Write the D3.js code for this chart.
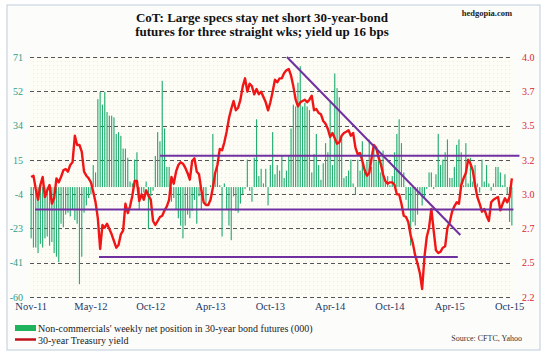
<!DOCTYPE html>
<html>
<head>
<meta charset="utf-8">
<script src="https://cdn.jsdelivr.net/npm/d3@7"></script>
<style>
  html, body { margin: 0; padding: 0; background: #fff; }
  svg { display: block; font-family: "Liberation Serif", "Times New Roman", serif; }
</style>
</head>
<body>
<svg id="chart" width="548" height="353"></svg>
<script>
// weekly net position of non-commercials, 30-yr bond futures (000), Nov-11 .. Oct-15
const netPosition = [
  -28, -33, -33, -36, -31, -33, -28, -27, -32, -30,
  -36, -38, -41, -20, -22, -15, -14, -16, -12, -18,
  -20, -53, -38, -14, -10, -6, -4, 12, 8, 48,
  52, 45, 52, 41, 39, 39, 38, 29, 30, 28,
  21, 21, 16, 3, 2, 15, 19, -12, -6, -3,
  3, -23, -5, -2, 17, 30, 25, 58, 32, 11,
  11, -8, -6, -12, -17, -21, -28, -21, -15, -17,
  -13, -7, -20, -5, -12, -7, -9, 0, 1, 29,
  6, 15, 1, -27, 2, -12, -21, -29, -5, -13,
  -14, -9, -4, -1, 15, -2, -8, 16, 37, 6,
  10, 2, 10, -10, 12, 30, 7, 12, 9, 17,
  5, 9, 17, 32, 45, 44, 57, 66, 44, 46,
  44, 42, 8, 18, 29, 12, 4, 13, 24, 19,
  47, 12, 62, 54, 49, 28, 5, 6, 9, 15,
  2, -4, 15, 9, 25, 10, 14, 26, 11, 23,
  14, 19, 8, 20, 3, 6, 1, 6, 19, 29,
  37, 24, 8, -7, -12, -32, -19, -21, -15, -4,
  -10, -6, -1, 8, 8, -1, 7, 29, 12, 15,
  19, 26, 5, 5, 11, 23, 26, 19, 1, 24,
  2, 16, 3, 12, 2, -3, 15, 3, 12, 2,
  -2, 2, 11, 11, 8, 1, 7, -4, -19, -21
];

// 30-year treasury yield, same weeks
const yield30 = [
  3.10, 3.11, 3.01, 2.93, 3.04, 3.10, 2.95, 3.00, 3.04, 2.90,
  2.94, 3.09, 3.06, 3.10, 3.15, 3.16, 3.14, 3.19, 3.21, 3.41,
  3.34, 3.34, 3.29, 3.14, 3.11, 3.09, 3.06, 2.99, 2.91, 2.79,
  2.56, 2.74, 2.72, 2.75, 2.71, 2.67, 2.62, 2.57, 2.59, 2.67,
  2.70, 2.90, 2.83, 2.88, 2.96, 3.07, 3.07, 2.92, 2.97, 2.93,
  3.00, 2.96, 2.93, 2.77, 2.74, 2.77, 2.80, 2.81, 2.85, 2.88,
  2.93, 3.10, 3.05, 3.14, 3.19, 3.21, 3.20, 3.17, 3.13, 3.08,
  3.22, 3.24, 3.14, 3.12, 3.00, 2.91, 2.89, 2.89, 2.93, 3.02,
  3.13, 3.19, 3.31, 3.30, 3.36, 3.44, 3.54, 3.61, 3.67, 3.60,
  3.62, 3.68, 3.78, 3.84, 3.74, 3.80, 3.78, 3.72, 3.76, 3.72,
  3.74, 3.70, 3.66, 3.60, 3.66, 3.74, 3.83, 3.81, 3.84, 3.84,
  3.88, 3.90, 3.91, 3.86, 3.78, 3.68, 3.63, 3.66, 3.67, 3.68,
  3.66, 3.68, 3.71, 3.60, 3.61, 3.58, 3.57, 3.52, 3.50, 3.46,
  3.40, 3.43, 3.39, 3.35, 3.36, 3.41, 3.43, 3.44, 3.45, 3.41,
  3.43, 3.32, 3.27, 3.28, 3.22, 3.15, 3.11, 3.13, 3.24, 3.34,
  3.32, 3.25, 3.20, 3.12, 3.07, 3.05, 3.06, 3.06, 3.04, 2.97,
  2.97, 2.90, 2.81, 2.80, 2.76, 2.66, 2.60, 2.51, 2.45, 2.38,
  2.26, 2.50, 2.65, 2.72, 2.86, 2.70, 2.55, 2.53, 2.54, 2.57,
  2.58, 2.72, 2.76, 2.84, 2.88, 2.91, 2.90, 3.04, 3.09, 3.13,
  3.23, 3.20, 3.15, 3.04, 2.95, 2.90, 2.84, 2.86, 2.81, 2.77,
  2.91, 2.93, 2.94, 2.95, 2.85, 2.90, 2.94, 2.91, 2.95, 3.09
];

// x-axis labels sit every 26 weeks
const xTickWeeks = [0, 26, 52, 78, 104, 130, 156, 182, 208];
const xTickLabels = ["Nov-11", "May-12", "Oct-12", "Apr-13", "Oct-13", "Apr-14", "Oct-14", "Apr-15", "Oct-15"];
const leftTickLabels = ["-60", "-41", "-23", "-4", "15", "34", "52", "71"];
const rightTickLabels = ["2.2", "2.5", "2.7", "3.0", "3.2", "3.5", "3.7", "4.0"];

// purple support / resistance lines drawn by the author, in (week, yield) terms
const trendLines = [
  { from: [56, 3.26], to: [212.3, 3.26] },
  { from: [1.7, 2.857], to: [209.7, 2.857] },
  { from: [29.5, 2.50], to: [185.5, 2.50] },
  { from: [111.2, 4.0], to: [186.6, 2.665] }
];

const legendItems = [
  "Non-commercials' weekly net position in 30-year bond futures (000)",
  "30-year Treasury yield"
];

const COLORS = {
  bar: "#25ad72",
  line: "#f01616",
  trend: "#7030a0",
  grid: "#555",
  left: "#2b9e86",
  right: "#e0242c",
  xlab: "#1f3864"
};

const svg = d3.select("#chart");
const plot = { left: 30, right: 513, top: 57, bottom: 297 };

// frame
svg.append("rect")
  .attr("x", 7).attr("y", 5).attr("width", 533).attr("height", 345)
  .attr("fill", "#fcfcfb").attr("stroke", "#c9d5e2").attr("stroke-width", 1.2);

// faint dotted plot background
const defs = svg.append("defs");
const pat = defs.append("pattern").attr("id", "dots")
  .attr("width", 4).attr("height", 4).attr("patternUnits", "userSpaceOnUse");
pat.append("rect").attr("width", 4).attr("height", 4).attr("fill", "#fdfdf6");
pat.append("rect").attr("x", 1).attr("y", 1).attr("width", 1).attr("height", 1).attr("fill", "#eeeacc");
svg.append("rect")
  .attr("x", plot.left).attr("y", plot.top)
  .attr("width", plot.right - plot.left).attr("height", plot.bottom - plot.top)
  .attr("fill", "url(#dots)");

const N = netPosition.length;
const x = d3.scaleBand()
  .domain(d3.range(N))
  .range([plot.left, plot.right])
  .paddingInner(0.5)
  .paddingOuter(0.25);
// fractional week -> pixel (for the hand-drawn trend lines)
const xWeek = d3.scaleLinear()
  .domain([0, N - 1])
  .range([x(0) + x.bandwidth() / 2, x(N - 1) + x.bandwidth() / 2]);

const yLeft = d3.scaleLinear().domain([-60, 71]).range([plot.bottom, plot.top]);
const yRight = d3.scaleLinear().domain([2.2, 4.0]).range([plot.bottom, plot.top]);

const leftTicks = d3.range(8).map(k => -60 + k * 131 / 7);
const rightTicks = d3.range(8).map(k => 2.2 + k * 1.8 / 7);

// gridlines
svg.append("g")
  .selectAll("line")
  .data(leftTicks)
  .join("line")
  .attr("x1", plot.left).attr("x2", plot.right)
  .attr("y1", d => Math.round(yLeft(d)) + 0.5)
  .attr("y2", d => Math.round(yLeft(d)) + 0.5)
  .attr("stroke", COLORS.grid)
  .attr("stroke-width", 1)
  .attr("stroke-dasharray", "4,3");

// bars
svg.append("g")
  .selectAll("rect")
  .data(netPosition)
  .join("rect")
  .attr("x", (d, i) => x(i))
  .attr("width", x.bandwidth())
  .attr("y", d => yLeft(Math.max(0, d)))
  .attr("height", d => Math.abs(yLeft(d) - yLeft(0)))
  .attr("fill", COLORS.bar);

// yield line
svg.append("path")
  .datum(yield30)
  .attr("fill", "none")
  .attr("stroke", COLORS.line)
  .attr("stroke-width", 2.4)
  .attr("stroke-linejoin", "round")
  .attr("d", d3.line()
    .x((d, i) => xWeek(i))
    .y(d => yRight(d)));

// trend lines
svg.append("g")
  .selectAll("line")
  .data(trendLines)
  .join("line")
  .attr("x1", d => xWeek(d.from[0])).attr("y1", d => yRight(d.from[1]))
  .attr("x2", d => xWeek(d.to[0])).attr("y2", d => yRight(d.to[1]))
  .attr("stroke", COLORS.trend)
  .attr("stroke-width", 2);

// axes
const axisLeft = d3.axisLeft(yLeft)
  .tickValues(leftTicks)
  .tickFormat((d, k) => leftTickLabels[k])
  .tickSize(0).tickPadding(7);
const gl = svg.append("g").attr("transform", `translate(${plot.left},0)`).call(axisLeft);
gl.select(".domain").remove();
gl.selectAll("text").attr("fill", COLORS.left).attr("font-size", 10)
  .attr("font-family", "Liberation Serif, Times New Roman, serif");

const axisRight = d3.axisRight(yRight)
  .tickValues(rightTicks)
  .tickFormat((d, k) => rightTickLabels[k])
  .tickSize(0).tickPadding(9);
const gr = svg.append("g").attr("transform", `translate(${plot.right},0)`).call(axisRight);
gr.select(".domain").remove();
gr.selectAll("text").attr("fill", COLORS.right).attr("font-size", 10)
  .attr("font-family", "Liberation Serif, Times New Roman, serif");

const axisBottom = d3.axisBottom(x)
  .tickValues(xTickWeeks)
  .tickFormat((d, k) => xTickLabels[k])
  .tickSize(0).tickPadding(6);
const gb = svg.append("g").attr("transform", `translate(0,${plot.bottom})`).call(axisBottom);
gb.select(".domain").remove();
gb.selectAll("text").attr("fill", COLORS.xlab).attr("font-size", 10.5)
  .attr("font-family", "Liberation Serif, Times New Roman, serif");

// title
const title = svg.append("g")
  .attr("font-weight", "bold")
  .attr("font-size", 13)
  .attr("text-anchor", "middle")
  .attr("fill", "#111");
title.append("text").attr("x", 262).attr("y", 22)
  .text("CoT: Large specs stay net short 30-year-bond");
title.append("text").attr("x", 262).attr("y", 35.5)
  .text("futures for three straight wks; yield up 16 bps");

svg.append("text")
  .attr("x", 512).attr("y", 16)
  .attr("text-anchor", "end")
  .attr("font-size", 8.5).attr("font-weight", "bold")
  .attr("fill", "#222")
  .text("hedgopia.com");

// legend
const lg = svg.append("g").attr("font-size", 10).attr("fill", "#222");
lg.append("rect").attr("x", 15).attr("y", 325).attr("width", 21).attr("height", 6)
  .attr("fill", "#1fb35e");
lg.append("text").attr("x", 38).attr("y", 331.5).text(legendItems[0]);
lg.append("line").attr("x1", 15).attr("x2", 36).attr("y1", 339.5).attr("y2", 339.5)
  .attr("stroke", "#c0121a").attr("stroke-width", 2.5);
lg.append("text").attr("x", 38).attr("y", 343.5).text(legendItems[1]);

svg.append("text")
  .attr("x", 522).attr("y", 341)
  .attr("text-anchor", "end")
  .attr("font-size", 8)
  .attr("fill", "#333")
  .text("Source: CFTC, Yahoo");
</script>
</body>
</html>
